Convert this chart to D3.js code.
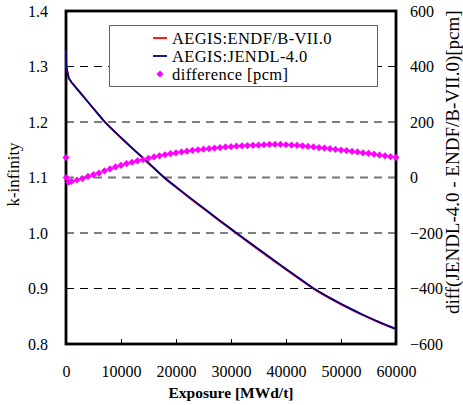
<!DOCTYPE html>
<html>
<head>
<meta charset="utf-8">
<script src="https://cdn.jsdelivr.net/npm/d3@7"></script>
<style>
  body { margin: 0; background: #fff; }
  text { font-family: "Liberation Serif", "Times New Roman", serif; }
</style>
</head>
<body>
<script>
// burnup steps [MWd/t]
let burnup = [0, 50, 500, 1000, 2000, 3000, 4000, 5000, 6000, 7000, 8000, 9000, 10000,
  11000, 12000, 13000, 14000, 15000, 16000, 17000, 18000, 19000, 20000, 21000, 22000,
  23000, 24000, 25000, 26000, 27000, 28000, 29000, 30000, 31000, 32000, 33000, 34000,
  35000, 36000, 37000, 38000, 39000, 40000, 41000, 42000, 43000, 44000, 45000, 46000,
  47000, 48000, 49000, 50000, 51000, 52000, 53000, 54000, 55000, 56000, 57000, 58000,
  59000, 60000]

let kJendl = [1.3300, 1.3000, 1.2790, 1.2715, 1.2597, 1.2479, 1.2361, 1.2243, 1.2125, 1.2008,
  1.1908, 1.1812, 1.1718, 1.1626, 1.1535, 1.1444, 1.1353, 1.1262, 1.1171, 1.1080, 1.0990,
  1.0911, 1.0833, 1.0755, 1.0678, 1.0601, 1.0525, 1.0449, 1.0373, 1.0298, 1.0223, 1.0149,
  1.0075, 1.0001, 0.9928, 0.9855, 0.9782, 0.9710, 0.9638, 0.9566, 0.9495, 0.9424, 0.9353,
  0.9283, 0.9213, 0.9143, 0.9074, 0.9005, 0.8945, 0.8887, 0.8831, 0.8777, 0.8724, 0.8673,
  0.8623, 0.8575, 0.8528, 0.8482, 0.8437, 0.8394, 0.8352, 0.8312, 0.8273]

let kEndf = [1.3293, 1.3000, 1.2792, 1.2716, 1.2598, 1.2479, 1.2361, 1.2242, 1.2123, 1.2006,
  1.1905, 1.1808, 1.1714, 1.1621, 1.1530, 1.1438, 1.1347, 1.1255, 1.1164, 1.1072, 1.0982,
  1.0902, 1.0824, 1.0746, 1.0668, 1.0591, 1.0515, 1.0439, 1.0363, 1.0287, 1.0212, 1.0138,
  1.0064, 0.9990, 0.9917, 0.9843, 0.9770, 0.9698, 0.9626, 0.9554, 0.9483, 0.9412, 0.9341,
  0.9271, 0.9201, 0.9132, 0.9063, 0.8994, 0.8934, 0.8876, 0.8821, 0.8767, 0.8714, 0.8663,
  0.8614, 0.8566, 0.8519, 0.8473, 0.8429, 0.8386, 0.8344, 0.8305, 0.8266]

// JENDL-4.0 - ENDF/B-VII.0 [pcm]
let diffPcm = [72, 0, -17, -14, -9, -4, 4, 10, 16, 24, 31, 38, 44, 50, 55, 60, 64, 69, 74,
  78, 82, 86, 89, 92, 95, 98, 100, 102, 104, 106, 108, 110, 111, 113, 114, 115, 116, 117,
  118, 119, 119, 119, 118, 117, 116, 114, 112, 110, 108, 106, 104, 101, 99, 97, 94, 92,
  89, 87, 84, 81, 78, 75, 72]

let xTicks = [0, 10000, 20000, 30000, 40000, 50000, 60000]
let kTicks = [0.8, 0.9, 1.0, 1.1, 1.2, 1.3, 1.4]
let pcmTicks = [-600, -400, -200, 0, 200, 400, 600]
let legendNames = ["AEGIS:ENDF/B-VII.0", "AEGIS:JENDL-4.0", "difference [pcm]"]

let w = 463, h = 405
let pLeft = 66, pRight = 396, pTop = 11, pBottom = 344

let svg = d3.select("body").append("svg")
    .attr("width", w)
    .attr("height", h)

let x = d3.scaleLinear().domain([0, 60000]).range([pLeft, pRight])
let yK = d3.scaleLinear().domain([0.8, 1.4]).range([pBottom, pTop])
let yD = d3.scaleLinear().domain([-600, 600]).range([pBottom, pTop])

// grid lines
svg.append("g").selectAll("line")
    .data(kTicks.filter(d => d > 0.85 && d < 1.35))
    .enter()
    .append("line")
    .attr("x1", pLeft)
    .attr("x2", pRight)
    .attr("y1", d => yK(d))
    .attr("y2", d => yK(d))
    .attr("stroke", d => Math.abs(d - 1.1) < 1e-6 ? "#777" : "#000")
    .attr("stroke-width", d => Math.abs(d - 1.1) < 1e-6 ? 1.8 : 1)
    .attr("stroke-dasharray", "8,6")

// axes
let xAxis = d3.axisBottom(x).tickValues(xTicks).tickSize(-5).tickPadding(22).tickFormat(d3.format("d"))
let yAxisL = d3.axisLeft(yK).tickValues(kTicks).tickSize(0).tickPadding(18).tickFormat(d3.format(".1f"))
let yAxisR = d3.axisRight(yD).tickValues(pcmTicks).tickSize(0).tickPadding(14).tickFormat(d3.format("d"))

function styleAxis(g) {
  g.select(".domain").remove()
  g.selectAll("text").attr("font-size", 16).attr("fill", "#000")
    .style("font-family", "'Liberation Serif', serif")
  g.selectAll("line").attr("stroke", "#000")
}

svg.append("g").attr("transform", `translate(0,${pBottom})`).call(xAxis).call(styleAxis)
svg.append("g").attr("transform", `translate(${pLeft},0)`).call(yAxisL).call(styleAxis)
svg.append("g").attr("transform", `translate(${pRight},0)`).call(yAxisR).call(styleAxis)

// frame
svg.append("rect")
    .attr("x", pLeft)
    .attr("y", pTop)
    .attr("width", pRight - pLeft)
    .attr("height", pBottom - pTop)
    .attr("fill", "none")
    .attr("stroke", "#000")
    .attr("stroke-width", 2.8)

// legend box (covers grid line)
let lg = svg.append("g")
lg.append("rect")
    .attr("x", 109.5)
    .attr("y", 25.5)
    .attr("width", 268)
    .attr("height", 61)
    .attr("fill", "#fff")
    .attr("stroke", "#666")
    .attr("stroke-width", 1)

let line = ys => d3.line().x((d, i) => x(burnup[i])).y((d, i) => yK(ys[i]))

svg.append("path")
    .datum(kEndf)
    .attr("d", line(kEndf))
    .attr("fill", "none")
    .attr("stroke", "#ff0000")
    .attr("stroke-width", 1.8)

svg.append("path")
    .datum(kJendl)
    .attr("d", line(kJendl))
    .attr("fill", "none")
    .attr("stroke", "#000080")
    .attr("stroke-width", 1.8)

let marker = d3.symbol().type(d3.symbolSquare).size(26)

svg.append("g").selectAll("path")
    .data(diffPcm)
    .enter()
    .append("path")
    .attr("d", marker)
    .attr("transform", (d, i) => `translate(${x(burnup[i])},${yD(d)}) rotate(45)`)
    .attr("fill", "#ff00ff")

// legend entries
let lgColors = ["#ff0000", "#000080"]
lgColors.forEach((c, i) => {
  lg.append("line")
      .attr("x1", 153)
      .attr("x2", 167)
      .attr("y1", 38 + i * 18)
      .attr("y2", 38 + i * 18)
      .attr("stroke", c)
      .attr("stroke-width", 1.8)
})
lg.append("path")
    .attr("d", marker)
    .attr("transform", "translate(160,74) rotate(45)")
    .attr("fill", "#ff00ff")

lg.selectAll("text")
    .data(legendNames)
    .enter()
    .append("text")
    .attr("x", 172)
    .attr("y", (d, i) => 44 + i * 18)
    .attr("font-size", 16.5)
    .attr("letter-spacing", 0.4)
    .text(d => d)

// axis titles
svg.append("text")
    .attr("x", 231)
    .attr("y", 398)
    .attr("text-anchor", "middle")
    .attr("font-size", 15.5)
    .attr("font-weight", "bold")
    .text("Exposure [MWd/t]")

svg.append("text")
    .attr("transform", `translate(19,${(pTop + pBottom) / 2 - 3}) rotate(-90)`)
    .attr("text-anchor", "middle")
    .attr("font-size", 17)
    .text("k-infinity")

svg.append("text")
    .attr("transform", "translate(459,314) rotate(-90)")
    .attr("text-anchor", "start")
    .attr("font-size", 19)
    .text("diff(JENDL-4.0 - ENDF/B-VII.0)[pcm]")
</script>
</body>
</html>
